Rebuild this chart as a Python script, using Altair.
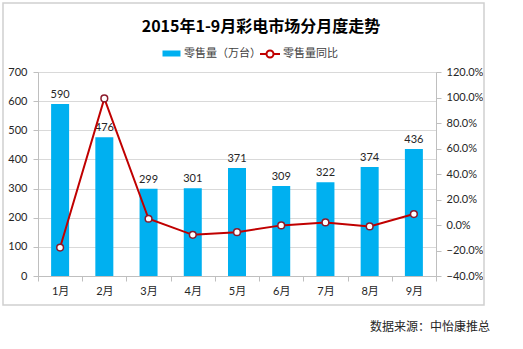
import altair as alt
import pandas as pd

months = ["1月", "2月", "3月", "4月", "5月", "6月", "7月", "8月", "9月"]
sales = [590, 476, 299, 301, 371, 309, 322, 374, 436]
yoy = [-0.177, 0.993, 0.049, -0.077, -0.056, -0.003, 0.020, -0.011, 0.086]

bar_name = "零售量（万台）"
line_name = "零售量同比"
title_text = "2015年1-9月彩电市场分月度走势"
source_text = "数据来源：中怡康推总"

FONT = "Lato, 'Noto Sans CJK SC', sans-serif"
CJK = "'Noto Sans CJK SC', sans-serif"
BLUE = "#00B0F0"
RED = "#C00000"
GRID = "#D9D9D9"

df = pd.DataFrame({"month": months, "sales": sales, "yoy": yoy,
                   "s1": [bar_name] * 9, "s2": [line_name] * 9})

x = alt.X("month:N", sort=months,
          scale=alt.Scale(paddingInner=0, paddingOuter=0),
          axis=alt.Axis(title=None, labelAngle=0, tickBand="extent",
                        domainColor="#BFBFBF", tickColor="#BFBFBF", tickSize=5,
                        labelFontSize=11, labelColor="#262626", labelPadding=4,
                        labelFont=FONT))

left_axis = alt.Axis(title=None, values=list(range(0, 701, 100)), grid=True,
                     labelOverlap=False,
                     gridColor=GRID, domainColor="#BFBFBF", tickColor="#BFBFBF",
                     tickSize=5, labelPadding=6, labelFontSize=11,
                     labelColor="#262626", labelFont=FONT)
yl = alt.Y("sales:Q", scale=alt.Scale(domain=[0, 700]), axis=left_axis)

base = alt.Chart(df)

bars = base.mark_bar(size=18).encode(
    x=x, y=yl,
    color=alt.Color("s1:N", scale=alt.Scale(range=[BLUE]),
                    legend=alt.Legend(title=None, orient="none", legendX=128, legendY=-24,
                                      symbolType="M-1.8,-0.6H1.8V0.6H-1.8Z",
                                      symbolSize=100, symbolStrokeWidth=0,
                                      labelFontSize=11, labelColor="#404040",
                                      labelFont=CJK, labelOffset=7)),
)

labels = base.mark_text(baseline="bottom", dy=-4, fontSize=11, color="#262626",
                        font=FONT).encode(
    x=x, y=yl, text=alt.Text("sales:Q"))

left = alt.layer(bars, labels)

right_axis = alt.Axis(title=None, orient="right", format=".1%",
                      values=[-0.4, -0.2, 0, 0.2, 0.4, 0.6, 0.8, 1.0, 1.2],
                      labelOverlap=False,
                      grid=False, domainColor="#BFBFBF", tickColor="#BFBFBF",
                      tickSize=5, labelPadding=5, labelFontSize=11,
                      labelColor="#262626", labelFont=FONT)
yr = alt.Y("yoy:Q", scale=alt.Scale(domain=[-0.4, 1.2]), axis=right_axis)

line = base.mark_line(strokeWidth=2).encode(
    x=x, y=yr,
    color=alt.Color("s2:N", scale=alt.Scale(range=[RED]),
                    legend=alt.Legend(title=None, orient="none", legendX=226, legendY=-24,
                                      symbolType="M-2,0H-0.7M0.7,0H2M-0.7,0A0.7,0.7 0 1,1 0.7,0A0.7,0.7 0 1,1 -0.7,0",
                                      symbolSize=100, symbolStrokeWidth=2,
                                      symbolFillColor="white",
                                      labelFontSize=11, labelColor="#404040",
                                      labelFont=CJK, labelOffset=7)),
)
points = base.mark_point(filled=True, fill="white", stroke="#8B1A2B", size=45,
                         strokeWidth=1.5, opacity=1).encode(x=x, y=yr)

right = alt.layer(line, points)

one = pd.DataFrame({"a": [0]})
frame = alt.Chart(one).mark_rect(fill=None, stroke="#D0D0D0", strokeWidth=1.5).encode(
    x=alt.value(-35), x2=alt.value(446), y=alt.value(-69), y2=alt.value(233))
title = alt.Chart(one).mark_text(align="center", baseline="middle", fontSize=16,
                                 fontWeight="bold", color="#000000", font=CJK).encode(
    x=alt.value(223), y=alt.value(-45), text=alt.value(title_text))
source = alt.Chart(one).mark_text(align="left", baseline="middle", fontSize=12,
                                  color="#262626", font=CJK).encode(
    x=alt.value(332), y=alt.value(255), text=alt.value(source_text))

chart = alt.layer(frame, title, left, right, source).resolve_scale(
    y="independent", color="independent").resolve_legend(color="independent").properties(
    width=398, height=204,
    autosize=alt.AutoSizeParams(type="none"),
    padding={"left": 38, "top": 72, "right": 87, "bottom": 73},
).configure_view(stroke=None).configure(background="white")

chart.save("out.html", embed_options={"renderer": "svg", "actions": False})
